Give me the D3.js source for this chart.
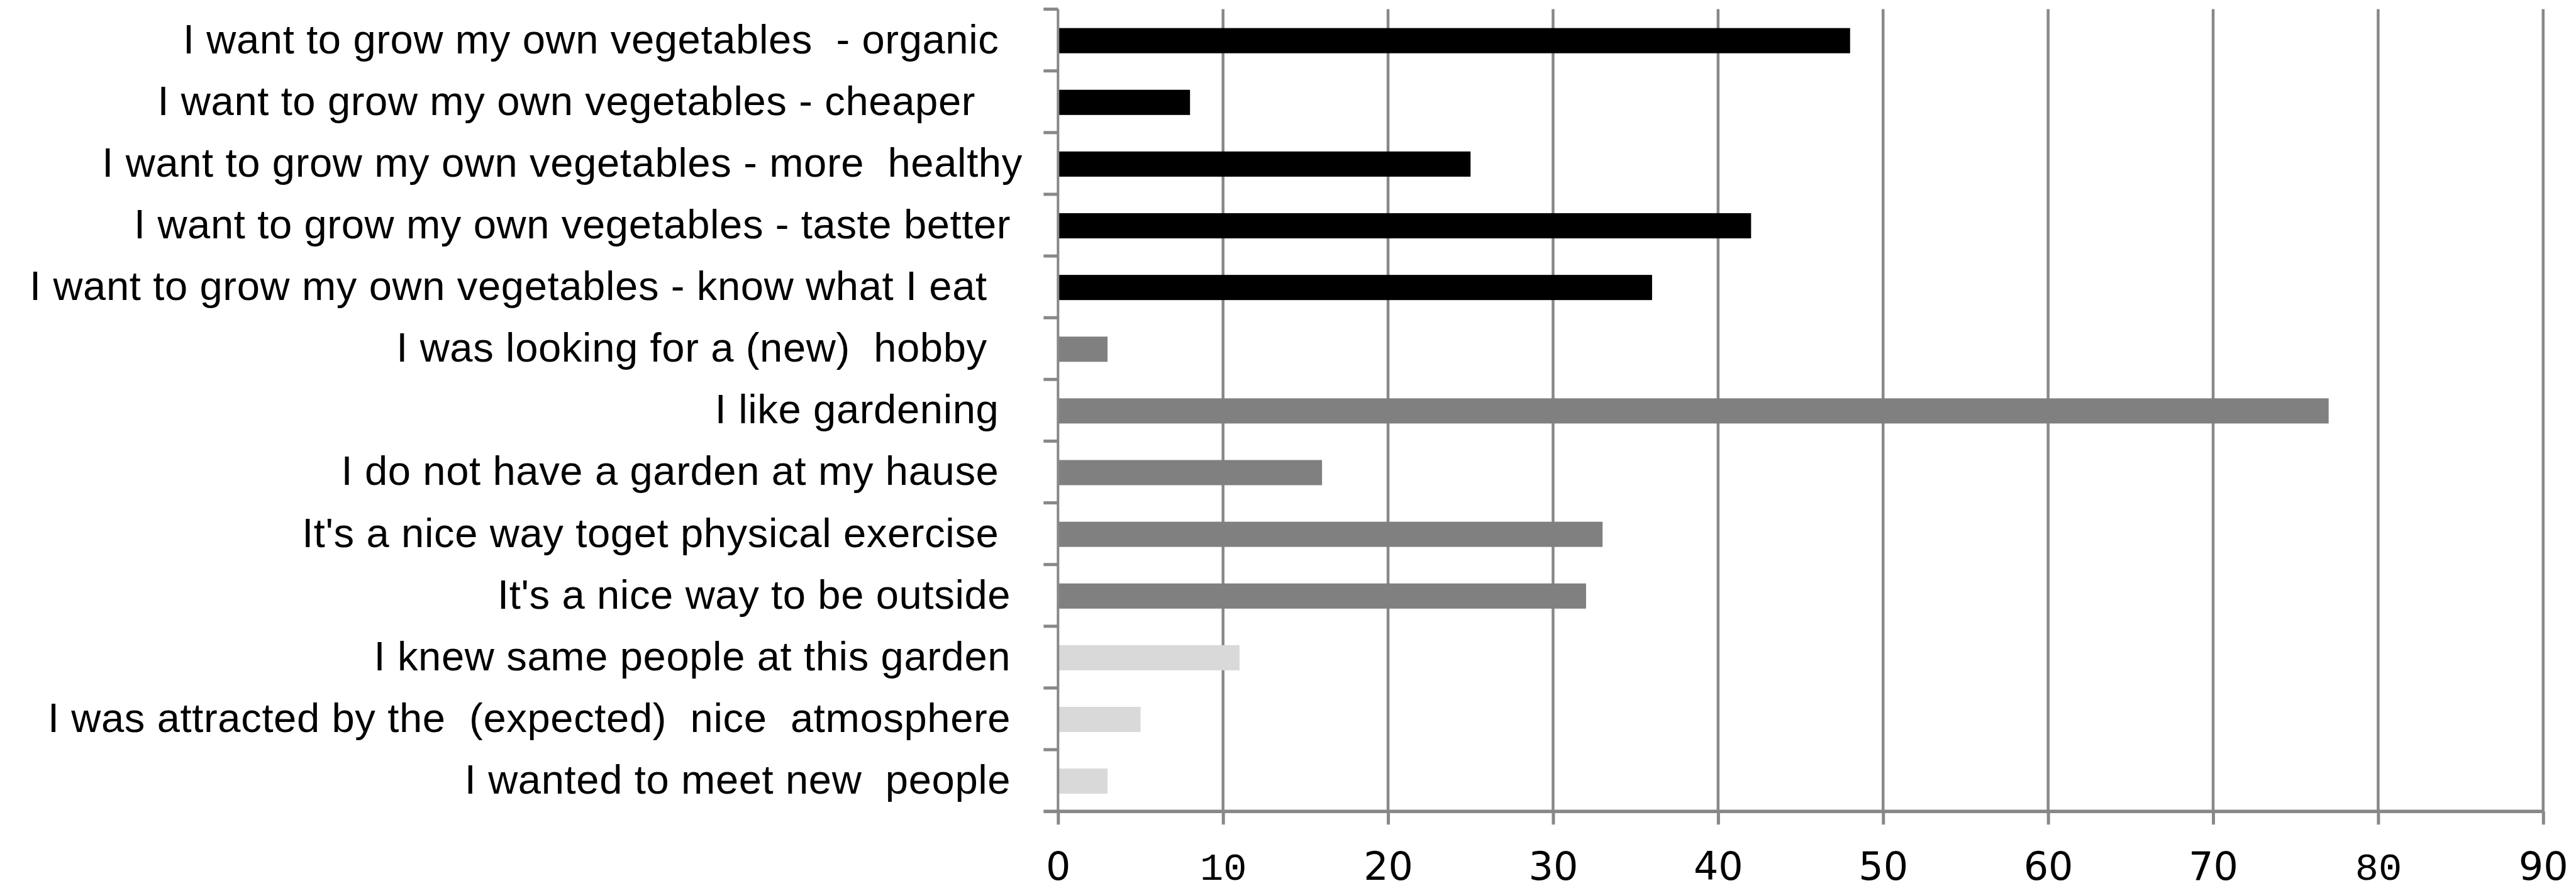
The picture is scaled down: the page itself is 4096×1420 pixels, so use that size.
<!DOCTYPE html>
<html>
<head>
<meta charset="utf-8">
<script src="https://cdn.jsdelivr.net/npm/d3@7"></script>
<style>
  html, body { margin: 0; padding: 0; background: #fff; }
  svg { display: block; }
  .label { font-family: "Liberation Sans", Arial, sans-serif; white-space: pre; font-kerning: none; }
  .tick text { font-family: "DejaVu Sans", sans-serif; }
</style>
</head>
<body>
<div id="chart"></div>
<script>
// reasons, top to bottom (trailing/double spaces as in the source sheet)
var categories = [
  "I want to grow my own vegetables  - organic  ",
  "I want to grow my own vegetables - cheaper    ",
  "I want to grow my own vegetables - more  healthy",
  "I want to grow my own vegetables - taste better ",
  "I want to grow my own vegetables - know what I eat   ",
  "I was looking for a (new)  hobby   ",
  "I like gardening  ",
  "I do not have a garden at my hause  ",
  "It's a nice way toget physical exercise  ",
  "It's a nice way to be outside ",
  "I knew same people at this garden ",
  "I was attracted by the  (expected)  nice  atmosphere ",
  "I wanted to meet new  people "
];
var values = [48, 8, 25, 42, 36, 3, 77, 16, 33, 32, 11, 5, 3];
var groups = ["veg", "veg", "veg", "veg", "veg",
              "self", "self", "self", "self", "self",
              "social", "social", "social"];
var xTicks = [0, 10, 20, 30, 40, 50, 60, 70, 80, 90];

var k = 0.973;
var W = 4096, H = 1420;
var margin = {top: 15 * k, left: 1729 * k, right: W - 4156 * k, bottom: H - 1326 * k};
var width = W - margin.left - margin.right,
    height = H - margin.top - margin.bottom;

var grey = "#888888";

var color = d3.scaleOrdinal()
    .domain(["veg", "self", "social"])
    .range(["#000000", "#808080", "#d9d9d9"]);

var x = d3.scaleLinear()
    .domain([0, 90])
    .range([0, width]);

var y = d3.scaleBand()
    .domain(d3.range(categories.length))
    .range([0, height])
    .padding(0);

var barH = y.bandwidth() / 2.45;

var svg = d3.select("#chart").append("svg")
    .attr("width", W)
    .attr("height", H)
  .append("g")
    .attr("transform", "translate(" + margin.left + "," + margin.top + ")");

// vertical gridlines
svg.append("g")
    .selectAll("line")
    .data(xTicks.slice(1))
  .enter().append("line")
    .attr("x1", function(d){ return x(d); })
    .attr("x2", function(d){ return x(d); })
    .attr("y1", 0)
    .attr("y2", height)
    .attr("stroke", grey)
    .attr("stroke-width", 4.5);

// bars
svg.append("g")
    .selectAll("rect")
    .data(values)
  .enter().append("rect")
    .attr("x", x(0))
    .attr("y", function(d, i){ return y(i) + (y.bandwidth() - barH) / 2 + 1; })
    .attr("width", function(d){ return x(d) - x(0); })
    .attr("height", barH)
    .attr("fill", function(d, i){ return color(groups[i]); });

// y axis line + boundary ticks
var yAxis = svg.append("g");
yAxis.append("line")
    .attr("x1", 0).attr("x2", 0)
    .attr("y1", 0).attr("y2", height)
    .attr("stroke", grey)
    .attr("stroke-width", 4);
yAxis.selectAll("line.tk")
    .data(d3.range(categories.length))
  .enter().append("line")
    .attr("class", "tk")
    .attr("x1", -23).attr("x2", 0)
    .attr("y1", function(i){ return y(i); })
    .attr("y2", function(i){ return y(i); })
    .attr("stroke", grey)
    .attr("stroke-width", 5);

// category labels
svg.append("g")
    .selectAll("text")
    .data(categories)
  .enter().append("text")
    .attr("class", "label")
    .attr("x", -58 * k)
    .attr("y", function(d, i){ return y(i) + y.bandwidth() / 2; })
    .attr("dy", "0.32em")
    .attr("text-anchor", "end")
    .attr("font-size", 67 * k)
    .attr("letter-spacing", 0.6)
    .attr("fill", "#000")
    .text(function(d){ return d; });

// x axis
var xAxis = svg.append("g")
    .attr("transform", "translate(0," + height + ")")
    .call(d3.axisBottom(x).tickValues(xTicks).tickSize(21).tickFormat(d3.format("d")));

xAxis.select(".domain").remove();
xAxis.selectAll(".tick line")
    .attr("stroke", grey)
    .attr("stroke-width", 5);
xAxis.append("line")
    .attr("x1", -23).attr("x2", width + 2)
    .attr("y1", 0).attr("y2", 0)
    .attr("stroke", grey)
    .attr("stroke-width", 5.5);
xAxis.selectAll(".tick text")
    .attr("y", 1399 - (margin.top + height))
    .attr("dy", 0)
    .attr("font-size", 62)
    .attr("fill", "#000")
    .style("font-family", function(d){ return (d === 10 || d === 80) ? "'Liberation Mono', monospace" : "'DejaVu Sans', sans-serif"; });
</script>
</body>
</html>
